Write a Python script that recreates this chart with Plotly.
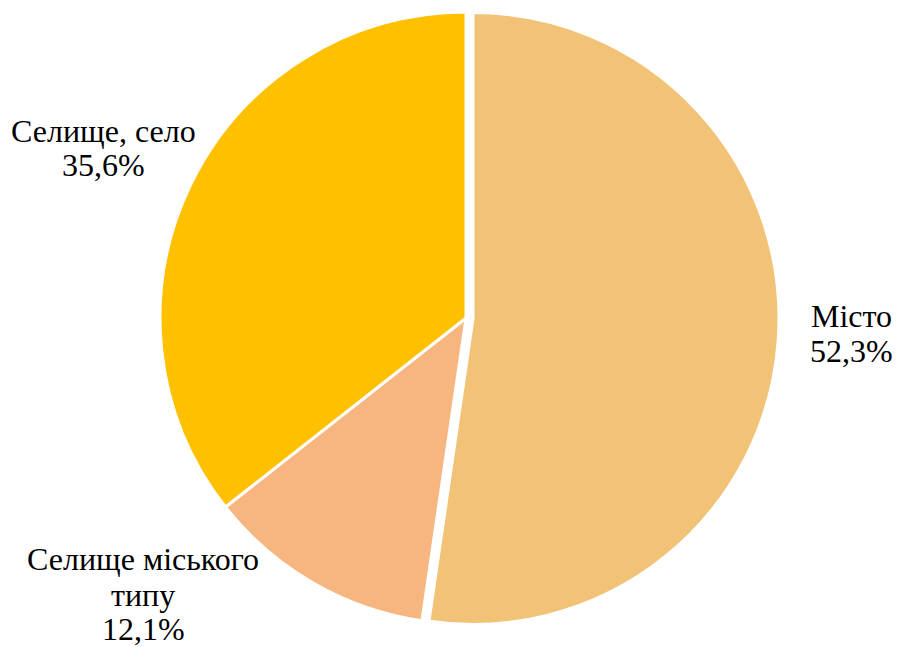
import plotly.graph_objects as go

labels = ["Місто", "Селище міського типу", "Селище, село"]
values = [52.3, 12.1, 35.6]
colors = ["#F2C277", "#F7B680", "#FFC000"]
pulls = [0.023, 0, 0]
# label lines and the baseline (px from top) of each line
label_lines = [["Місто", "52,3%"], ["Селище міського", "типу", "12,1%"], ["Селище, село", "35,6%"]]
label_x = [851, 143, 103]
label_baselines = [[327, 362], [570, 606, 640], [142, 176]]

W, H = 897, 647
FS = 32
fig = go.Figure(go.Pie(
    labels=labels, values=values, sort=False, direction="clockwise", rotation=0,
    pull=pulls, textinfo="none", hoverinfo="label+percent",
    marker=dict(colors=colors, line=dict(color="white", width=3)),
    domain=dict(x=[153 / W, 779 / W], y=[16 / H, 642 / H]),
    showlegend=False,
))
for lines, x, bases in zip(label_lines, label_x, label_baselines):
    for t, b in zip(lines, bases):
        fig.add_annotation(x=x / W, y=1 - (b - 0.34 * FS) / H, xref="paper", yref="paper",
                           text=t, showarrow=False, xanchor="center", yanchor="middle",
                           font=dict(family="'Times New Roman', 'Liberation Serif', serif",
                                     size=FS, color="black"))
fig.update_layout(width=W, height=H, margin=dict(l=0, r=0, t=0, b=0),
                  paper_bgcolor="white", plot_bgcolor="white")
fig.write_html("out.html", config={"displayModeBar": False},
               post_script="document.body.style.margin='0';document.body.style.overflow='hidden';")
